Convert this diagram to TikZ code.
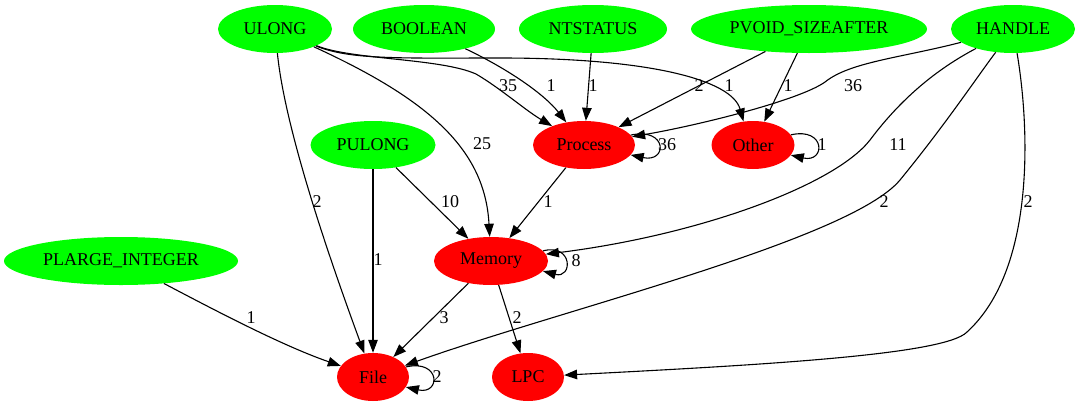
\documentclass[tikz,border=0pt]{standalone}
\usepackage{fontspec}
\setmainfont{Liberation Serif}
\usetikzlibrary{arrows.meta,shapes.geometric}
\definecolor{gvgreen}{RGB}{0,255,0}
\definecolor{gvred}{RGB}{255,0,0}
\begin{document}
\begin{tikzpicture}[x=1pt,y=-1pt,
  every node/.style={font=\fontsize{18}{21}\selectfont},
  tnode/.style={ellipse,fill=gvgreen,inner sep=0pt,minimum height=48pt},
  cnode/.style={ellipse,fill=gvred,inner sep=0pt,minimum height=48pt},
  arr/.style={draw,line width=1.1pt,-{Triangle[length=13pt,width=9.5pt]}},
  lbl/.style={inner sep=0pt}]
\useasboundingbox (0,0) rectangle (1081,407);
% nodes
\node[tnode,minimum width=114pt] (ULONG) at (275,29) {ULONG};
\node[tnode,minimum width=142pt] (BOOLEAN) at (424,29) {BOOLEAN};
\node[tnode,minimum width=148pt] (NTSTATUS) at (593,29) {NTSTATUS};
\node[tnode,minimum width=236pt] (PVOID) at (809,29) {PVOID\_SIZEAFTER};
\node[tnode,minimum width=124pt] (HANDLE) at (1013,29) {HANDLE};
\node[tnode,minimum width=125pt] (PULONG) at (373,145) {PULONG};
\node[cnode,minimum width=102pt] (Process) at (584,145) {Process};
\node[cnode,minimum width=83pt] (Other) at (753,145) {Other};
\node[tnode,minimum width=234pt] (PLARGE) at (121,261) {PLARGE\_INTEGER};
\node[cnode,minimum width=114pt] (Memory) at (491,261) {Memory};
\node[cnode,minimum width=72pt] (File) at (373,377) {File};
\node[cnode,minimum width=72pt] (LPC) at (528,377) {LPC};
% edges
\draw[arr] (ULONG) .. controls (285,130) and (330,260) .. (File);
\draw[arr] (ULONG) .. controls (352,60) and (440,58) .. (476,74) .. controls (500,88) and (525,110) .. (Process);
\draw[arr] (ULONG) .. controls (350,60) and (400,58) .. (500,58) .. controls (650,58) and (732,80) .. (Other.112);
\draw[arr] (ULONG) .. controls (430,100) and (485,150) .. (Memory);
\draw[arr] (BOOLEAN) .. controls (510,70) and (545,95) .. (Process);
\draw[arr] (NTSTATUS) -- (Process);
\draw[arr] (PVOID) -- (Process);
\draw[arr] (PVOID) -- (Other);
\draw[arr] (HANDLE) .. controls (900,58) and (850,62) .. (825,82) .. controls (800,100) and (700,125) .. (Process);
\draw[arr] (HANDLE) .. controls (935,70) and (900,100) .. (870,140) .. controls (835,185) and (700,235) .. (Memory);
\draw[arr] (HANDLE) .. controls (975,80) and (945,125) .. (900,180) .. controls (850,240) and (560,310) .. (File);
\draw[arr] (HANDLE) .. controls (1030,130) and (1035,270) .. (967,332) .. controls (945,355) and (760,365) .. (LPC);
\draw[arr] (PULONG) -- (Memory);
\draw[arr] (PULONG) -- (File);
\draw[arr] (Process) -- (Memory);
\draw[arr] (Memory) -- (File);
\draw[arr] (Memory) -- (LPC);
\draw[arr] (PLARGE) .. controls (205,305) and (280,345) .. (File);
% self loops
\draw[arr] (Process.12) .. controls +(37,-8) and +(37,8) .. (Process.-12);
\draw[arr] (Other.15) .. controls +(35,-8) and +(35,8) .. (Other.-15);
\draw[arr] (Memory.11) .. controls +(30,-8) and +(30,8) .. (Memory.-11);
\draw[arr] (File.17) .. controls +(35,-8) and +(35,8) .. (File.-17);
% labels
\node[lbl] (l1) at (317,202) {2};
\node[lbl] (l2) at (508,86) {35};
\node[lbl] (l3) at (551,86) {1};
\node[lbl] (l4) at (593,86) {1};
\node[lbl] (l5) at (699,86) {2};
\node[lbl] (l6) at (729,86) {1};
\node[lbl] (l7) at (788,86) {1};
\node[lbl] (l8) at (853,86) {36};
\node[lbl] (l9) at (482,144) {25};
\node[lbl] (l10) at (667,145) {36};
\node[lbl] (l11) at (822,145) {1};
\node[lbl] (l12) at (898,145) {11};
\node[lbl] (l13) at (450,202) {10};
\node[lbl] (l14) at (548,202) {1};
\node[lbl] (l15) at (884,202) {2};
\node[lbl] (l16) at (1028,202) {2};
\node[lbl] (l17) at (378,260) {1};
\node[lbl] (l18) at (576,261) {8};
\node[lbl] (l19) at (251,318) {1};
\node[lbl] (l20) at (444,318) {3};
\node[lbl] (l21) at (517,318) {2};
\node[lbl] (l22) at (437,377) {2};
\end{tikzpicture}
\end{document}
